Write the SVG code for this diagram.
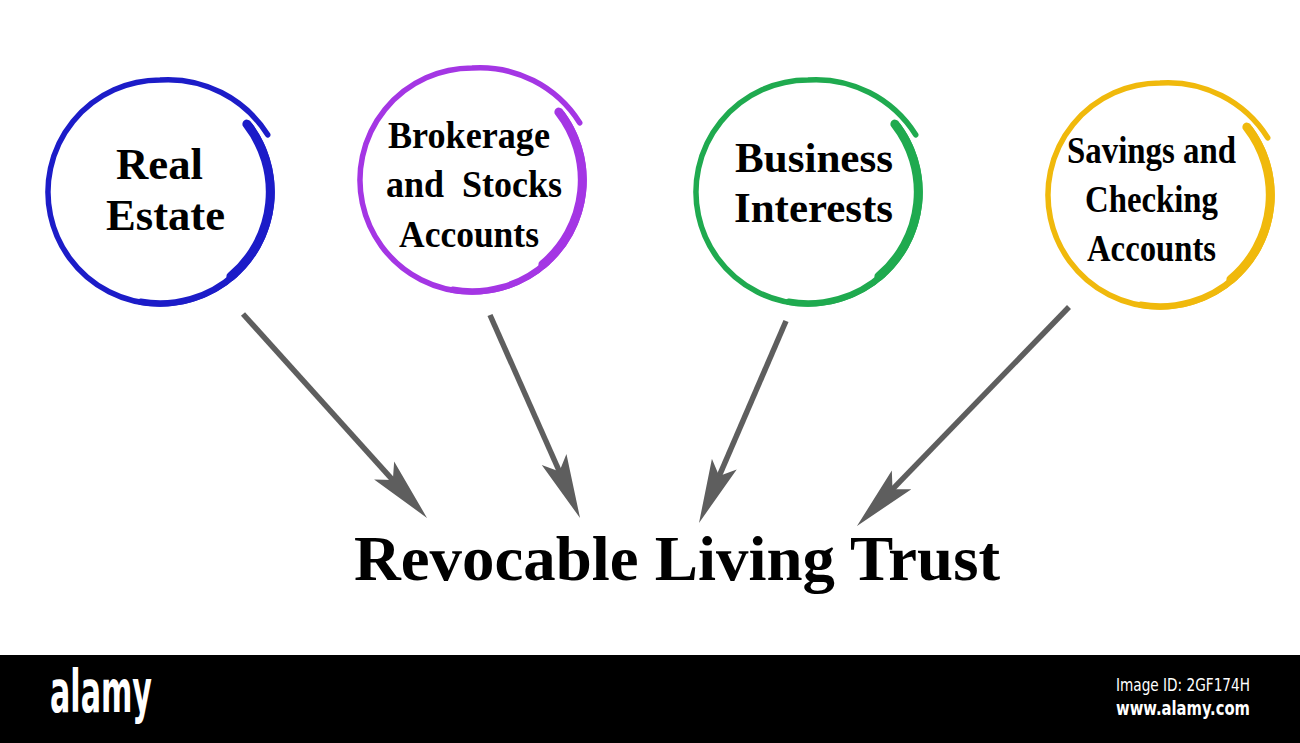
<svg xmlns="http://www.w3.org/2000/svg" xmlns:xlink="http://www.w3.org/1999/xlink" width="1300" height="743" viewBox="0 0 1300 743">
  <style>
    .lbl { font-family: "Liberation Serif", "Times New Roman", serif; font-weight: bold; fill: #000; }
    .ring { fill: none; stroke-linecap: round; }
    .conn { stroke: #5e5e5e; stroke-width: 5.5; fill: none; marker-end: url(#head); }
    .brand { font-family: "Liberation Sans Narrow", "DejaVu Sans Condensed", "Liberation Sans", sans-serif; fill: #fff; }
  </style>
  <defs>
    <marker id="head" markerUnits="userSpaceOnUse" viewBox="0 -14 66 28" markerWidth="66" markerHeight="28" refX="18" refY="0" orient="auto">
      <path d="M64,0 L0,-13.5 L13,0 L0,13.5 Z" fill="#5e5e5e"/>
    </marker>
    <g id="ring">
      <path class="ring" stroke-width="5.5" d="M90.6,-65.8 A112,112 0 1 1 0,-112 A118,118 0 0 1 107.7,-57.2"/>
      <path class="ring" stroke-width="9" stroke-linecap="butt" d="M86.9,-67.9 A110.25,110.25 0 0 1 70.9,84.5"/>
      <path class="ring" stroke-width="6.5" stroke-linecap="butt" d="M74.6,82.9 A111.5,111.5 0 0 1 -19.4,109.8"/>
    </g>
  </defs>
  <rect width="1300" height="743" fill="#fff"/>

  <g id="node-real-estate">
    <use xlink:href="#ring" href="#ring" transform="translate(160,192)" stroke="#1c1cc8"/>
    <text class="lbl" x="116" y="179" font-size="44" textLength="87" lengthAdjust="spacingAndGlyphs">Real</text>
    <text class="lbl" x="106" y="230" font-size="44" textLength="119" lengthAdjust="spacingAndGlyphs">Estate</text>
  </g>

  <g id="node-brokerage">
    <use xlink:href="#ring" href="#ring" transform="translate(472,180)" stroke="#a436e4"/>
    <text class="lbl" x="388" y="148" font-size="38" textLength="162" lengthAdjust="spacingAndGlyphs">Brokerage</text>
    <text class="lbl" x="386" y="197" font-size="38" textLength="176" lengthAdjust="spacingAndGlyphs" xml:space="preserve">and  Stocks</text>
    <text class="lbl" x="399" y="247" font-size="38" textLength="140" lengthAdjust="spacingAndGlyphs">Accounts</text>
  </g>

  <g id="node-business">
    <use xlink:href="#ring" href="#ring" transform="translate(808,192)" stroke="#1faa4f"/>
    <text class="lbl" x="735" y="172" font-size="42" textLength="158" lengthAdjust="spacingAndGlyphs">Business</text>
    <text class="lbl" x="734" y="222" font-size="42" textLength="159" lengthAdjust="spacingAndGlyphs">Interests</text>
  </g>

  <g id="node-savings">
    <use xlink:href="#ring" href="#ring" transform="translate(1160,195)" stroke="#f0b90c"/>
    <text class="lbl" x="1067" y="163" font-size="38" textLength="169" lengthAdjust="spacingAndGlyphs">Savings and</text>
    <text class="lbl" x="1085" y="212" font-size="38" textLength="133" lengthAdjust="spacingAndGlyphs">Checking</text>
    <text class="lbl" x="1087" y="261" font-size="38" textLength="129" lengthAdjust="spacingAndGlyphs">Accounts</text>
  </g>

  <g id="connectors">
    <line class="conn" x1="243" y1="314" x2="396.2" y2="483.8"/>
    <line class="conn" x1="490" y1="315" x2="561.4" y2="476"/>
    <line class="conn" x1="786" y1="321" x2="717.2" y2="480.7"/>
    <line class="conn" x1="1069" y1="307" x2="889" y2="492.9"/>
  </g>

  <g id="node-trust">
    <text class="lbl" x="354" y="580" font-size="64" textLength="646" lengthAdjust="spacingAndGlyphs">Revocable Living Trust</text>
  </g>

  <g id="footer">
    <rect x="0" y="655" width="1300" height="88" fill="#000"/>
    <text class="brand" x="50" y="712" font-size="58" font-weight="bold" textLength="102" lengthAdjust="spacingAndGlyphs">alamy</text>
    <text class="brand" x="1116" y="691" font-size="17" textLength="134" lengthAdjust="spacingAndGlyphs">Image ID: 2GF174H</text>
    <text class="brand" x="1116" y="715" font-size="20" font-weight="bold" textLength="134" lengthAdjust="spacingAndGlyphs">www.alamy.com</text>
  </g>
</svg>
